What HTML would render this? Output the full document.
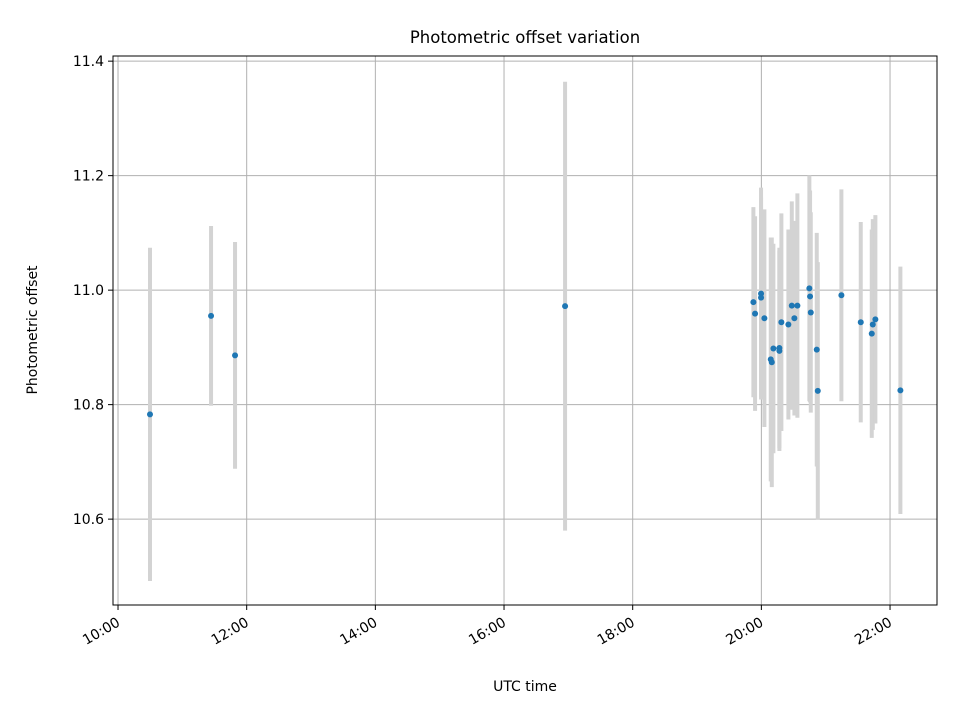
<!DOCTYPE html>
<html><head><meta charset="utf-8"><style>
body{margin:0;background:#fff}
svg text{font-family:"DejaVu Sans","Liberation Sans",sans-serif;fill:#000}
</style></head><body>
<svg id="chart" width="960" height="720" xmlns="http://www.w3.org/2000/svg">
<rect width="960" height="720" fill="#fff"/>
<text x="525" y="43" font-size="16.5" text-anchor="middle">Photometric offset variation</text>
<text x="525" y="691" font-size="14" text-anchor="middle">UTC time</text>
<text x="37" y="330" font-size="14" text-anchor="middle" transform="rotate(-90 37 330)">Photometric offset</text>
<g id="grid"></g><g id="bars"></g><g id="pts"></g><g id="ticks"></g>
<rect x="113" y="56" width="824" height="549" fill="none" stroke="#000" stroke-width="1"/>
</svg>
<script>
const times=[10.497,11.446,11.819,16.949,19.876,19.902,19.995,19.995,20.047,20.146,20.162,20.187,20.280,20.280,20.311,20.420,20.473,20.560,20.513,20.746,20.757,20.768,20.861,20.877,21.244,21.545,21.716,21.732,21.772,22.161];
const values=[10.783,10.955,10.886,10.972,10.979,10.959,10.994,10.987,10.951,10.879,10.874,10.898,10.899,10.894,10.944,10.940,10.973,10.973,10.951,11.003,10.989,10.961,10.896,10.824,10.991,10.944,10.924,10.940,10.949,10.825];
const errors=[0.291,0.157,0.198,0.392,0.166,0.170,0.185,0.175,0.190,0.213,0.218,0.183,0.175,0.175,0.190,0.166,0.182,0.196,0.170,0.197,0.185,0.175,0.204,0.225,0.185,0.175,0.182,0.184,0.182,0.216];
const xTicks=[10,12,14,16,18,20,22];
const xTickLabels=["10:00","12:00","14:00","16:00","18:00","20:00","22:00"];
const yTicks=[10.6,10.8,11.0,11.2,11.4];
const yTickLabels=["10.6","10.8","11.0","11.2","11.4"];
const NS="http://www.w3.org/2000/svg";
const L=113,R=937,T=56,B=605;
const xMin=9.922,xMax=22.73,yMin=10.45,yMax=11.409;
const X=t=>L+(t-xMin)/(xMax-xMin)*(R-L);
const Y=v=>B-(v-yMin)/(yMax-yMin)*(B-T);
function mk(tag,attrs,parent){const e=document.createElementNS(NS,tag);for(const k in attrs)e.setAttribute(k,attrs[k]);parent.appendChild(e);return e;}
const grid=document.getElementById('grid'),ticks=document.getElementById('ticks'),bars=document.getElementById('bars'),pts=document.getElementById('pts');
xTicks.forEach((t,i)=>{const x=X(t);
 const g=mk('line',{x1:x,x2:x,y1:T,y2:B,stroke:'#b0b0b0','stroke-width':1},grid);
 
 const tk=mk('line',{x1:x,x2:x,y1:B,y2:B+5,stroke:'#000'},ticks);
 
 const ax=x+3,ay=B+20;
 const tx=mk('text',{x:ax,y:ay,'font-size':14,'text-anchor':'end',transform:`rotate(-30 ${ax} ${ay})`},ticks);
 tx.textContent=xTickLabels[i];
 });
yTicks.forEach((v,i)=>{const y=Y(v);
 const g=mk('line',{x1:L,x2:R,y1:y,y2:y,stroke:'#b0b0b0','stroke-width':1},grid);
 
 const tk=mk('line',{x1:L-5,x2:L,y1:y,y2:y,stroke:'#000'},ticks);
 
 const tx=mk('text',{x:L-9,y:y+5,'font-size':14,'text-anchor':'end'},ticks);
 tx.textContent=yTickLabels[i];
 });
times.forEach((t,i)=>{const x=X(t);
 const b=mk('line',{x1:x,x2:x,y1:Y(values[i]+errors[i]),y2:Y(values[i]-errors[i]),stroke:'#d3d3d3','stroke-width':4},bars);
 
 const c=mk('circle',{cx:x,cy:Y(values[i]),r:3,fill:'#1f77b4'},pts);
 });
</script>
</body></html>
